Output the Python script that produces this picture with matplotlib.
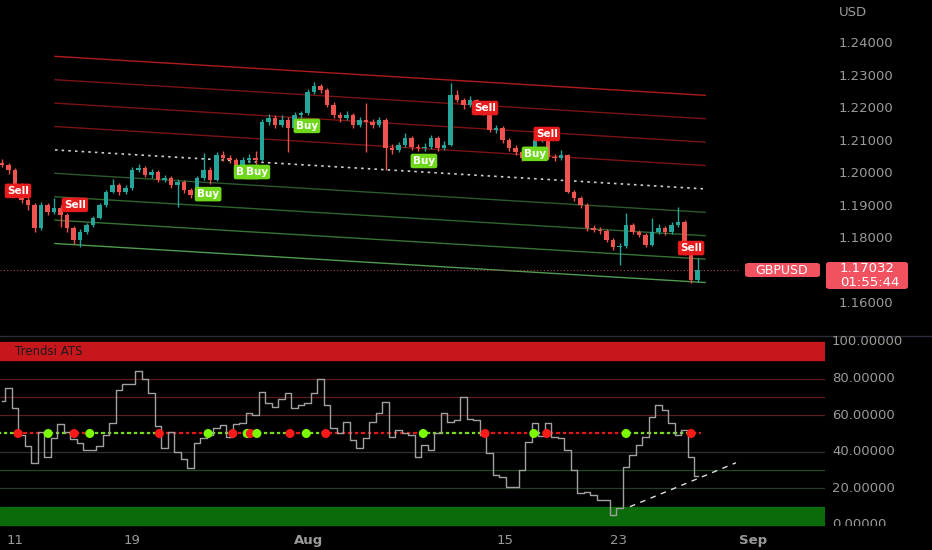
import matplotlib
matplotlib.use('Agg')
import matplotlib.pyplot as plt
from matplotlib.lines import Line2D
from matplotlib.patches import FancyBboxPatch
from matplotlib.transforms import Bbox, TransformedBbox, blended_transform_factory

# GBPUSD, 4H-ish bars (one entry per ~1/3 trading day)
first_open = 1.2035
closes = [1.2028, 1.2012, 1.1966, 1.1920, 1.1905, 1.1834, 1.1905, 1.1883, 1.1895, 1.1874,
          1.1834, 1.1797, 1.1822, 1.1843, 1.1865, 1.1905, 1.1945, 1.1966, 1.1945, 1.1957,
          1.2012, 1.2018, 1.1997, 1.2006, 1.1982, 1.1988, 1.1966, 1.1975, 1.1951, 1.1935,
          1.1988, 1.2012, 1.1982, 1.2058, 1.2049, 1.2043, 1.2012, 1.2043, 1.2049, 1.2043,
          1.2160, 1.2172, 1.2151, 1.2166, 1.2142, 1.2182, 1.2188, 1.2252, 1.2271, 1.2258,
          1.2212, 1.2182, 1.2172, 1.2182, 1.2151, 1.2166, 1.2160, 1.2151, 1.2166, 1.2080,
          1.2074, 1.2089, 1.2111, 1.2083, 1.2080, 1.2083, 1.2111, 1.2080, 1.2089, 1.2243,
          1.2228, 1.2212, 1.2228, 1.2197, 1.2191, 1.2135, 1.2142, 1.2105, 1.2080, 1.2068,
          1.2049, 1.2074, 1.2105, 1.2111, 1.2052, 1.2049, 1.2058, 1.1945, 1.1926, 1.1905,
          1.1834, 1.1828, 1.1825, 1.1797, 1.1775, 1.1778, 1.1843, 1.1822, 1.1812, 1.1782,
          1.1822, 1.1834, 1.1822, 1.1843, 1.1852, 1.1760, 1.1674, 1.17032]
highs = [1.2045, 1.2035, 1.2018, 1.1972, 1.1932, 1.1910, 1.1915, 1.1912, 1.1926, 1.1905,
         1.1880, 1.1840, 1.1830, 1.1850, 1.1872, 1.1912, 1.1952, 1.1985, 1.1972, 1.1965,
         1.2022, 1.2030, 1.2025, 1.2015, 1.2012, 1.1998, 1.1995, 1.1985, 1.1982, 1.1958,
         1.1995, 1.2065, 1.2020, 1.2068, 1.2072, 1.2058, 1.2050, 1.2052, 1.2060, 1.2070,
         1.2170, 1.2185, 1.2180, 1.2182, 1.2175, 1.2190, 1.2195, 1.2262, 1.2283, 1.2278,
         1.2265, 1.2222, 1.2192, 1.2195, 1.2188, 1.2175, 1.2218, 1.2170, 1.2175, 1.2172,
         1.2092, 1.2098, 1.2125, 1.2118, 1.2092, 1.2095, 1.2120, 1.2118, 1.2100, 1.2280,
         1.2258, 1.2235, 1.2240, 1.2232, 1.2205, 1.2195, 1.2152, 1.2148, 1.2110, 1.2088,
         1.2075, 1.2082, 1.2112, 1.2125, 1.2118, 1.2062, 1.2075, 1.2062, 1.1952, 1.1932,
         1.1910, 1.1842, 1.1838, 1.1830, 1.1802, 1.1788, 1.1880, 1.1850, 1.1828, 1.1818,
         1.1865, 1.1845, 1.1840, 1.1852, 1.1898, 1.1858, 1.1765, 1.1740]
lows = [1.2020, 1.2000, 1.1958, 1.1910, 1.1890, 1.1820, 1.1828, 1.1875, 1.1878, 1.1837,
        1.1822, 1.1785, 1.1775, 1.1815, 1.1838, 1.1860, 1.1898, 1.1940, 1.1935, 1.1938,
        1.1950, 1.2005, 1.1990, 1.1988, 1.1975, 1.1975, 1.1958, 1.1898, 1.1942, 1.1925,
        1.1930, 1.1982, 1.1970, 1.1978, 1.2040, 1.2035, 1.2000, 1.2008, 1.2035, 1.2032,
        1.2040, 1.2150, 1.2140, 1.2145, 1.2068, 1.2135, 1.2172, 1.2180, 1.2245, 1.2248,
        1.2205, 1.2172, 1.2160, 1.2165, 1.2140, 1.2145, 1.2068, 1.2140, 1.2145, 1.2012,
        1.2062, 1.2068, 1.2082, 1.2075, 1.2072, 1.2072, 1.2078, 1.2072, 1.2075, 1.2085,
        1.2220, 1.2200, 1.2205, 1.2188, 1.2182, 1.2128, 1.2125, 1.2095, 1.2070, 1.2058,
        1.2040, 1.2042, 1.2068, 1.2098, 1.2045, 1.2040, 1.2042, 1.1940, 1.1918, 1.1895,
        1.1825, 1.1820, 1.1815, 1.1790, 1.1765, 1.1720, 1.1772, 1.1815, 1.1805, 1.1775,
        1.1778, 1.1815, 1.1812, 1.1815, 1.1838, 1.1752, 1.1665, 1.1668]

# "Trendsi ATS" oscillator, one value per bar
osc = [68, 75, 64, 49, 43, 34, 51, 37, 47.5, 55,
       51, 47, 44.6, 41, 41, 43, 49, 56, 74, 77,
       77, 84, 80, 72, 54, 42, 51, 40, 36, 31,
       44.6, 47.4, 49, 53, 54.6, 48, 55, 55.6, 61, 60,
       72.8, 66.5, 64.6, 69, 72, 64, 65.6, 66.5, 72, 80,
       65.6, 52.8, 50, 56.4, 46.4, 42, 47.4, 56.4, 61, 67.4,
       48.3, 51.9, 50, 49.2, 37, 43.7, 41, 50, 61, 56.4,
       57.4, 70, 58, 57.4, 49, 39.2, 27.3, 26.4, 20.9, 20.9,
       30, 45.5, 56, 48.5, 55.6, 48.3, 47.4, 41, 30, 17.3,
       18.2, 16.4, 13.7, 13.7, 5.5, 9.1, 31.9, 38.3, 43.7, 48.3,
       59.2, 65.6, 62.8, 55.6, 49.2, 52, 37.3, 27]

sell_bars = [2.46, 11.2, 74.3, 83.8, 106.0]
sell_prices = [1.1948, 1.1905, 1.2203, 1.2123, 1.1772]
buy_bars = [31.7, 37.7, 39.2, 46.9, 64.9, 82.0]
buy_prices = [1.1938, 1.2006, 1.2006, 1.2148, 1.2040, 1.2062]

# regression channel
chan_x = [8.15, 108.15]
chan_mid = [1.2074, 1.1954]
chan_step = 0.0072

# signal dots on the 50 line
sig_bars = [2.46, 7.1, 11.1, 13.5, 24.2, 31.7, 35.5, 37.7, 38.2, 39.2,
            44.3, 46.8, 49.8, 64.8, 74.3, 81.8, 83.8, 96.0, 106.0]
sig_types = ['s', 'b', 's', 'b', 's', 'b', 's', 'b', 's', 'b',
             's', 'b', 's', 'b', 's', 'b', 's', 'b', 's']

trend_x = [96.6, 112.9]
trend_y = [10, 34]

symbol = 'GBPUSD'
last_price = 1.17032
countdown = '01:55:44'

price_ticks = [1.16, 1.18, 1.19, 1.20, 1.21, 1.22, 1.23, 1.24]
osc_ticks = [0, 20, 40, 60, 80, 100]
date_ticks = [2.0, 20.0, 47.2, 77.4, 94.8, 115.5]
date_labels = ['11', '19', 'Aug', '15', '23', 'Sep']

UP = '#26a69a'
DOWN = '#ef5350'
AXIS_TXT = '#9a9a9a'
BG = '#000000'

fig = plt.figure(figsize=(9.32, 5.5), dpi=100, facecolor=BG)
ax1 = fig.add_axes([0, 0.391, 825 / 932, 0.609])
ax2 = fig.add_axes([0, 0.0364, 825 / 932, 0.3527])
for ax in (ax1, ax2):
    ax.set_facecolor(BG)
    for s in ax.spines.values():
        s.set_visible(False)
    ax.set_xlim(-0.31, 126.6)
    ax.tick_params(left=False, labelleft=False, bottom=False)
ax1.tick_params(labelbottom=False)
ax1.set_ylim(1.15046, 1.25354)
ax2.set_ylim(-2.73, 103.28)

# channel lines
red_cols = ['#7a1414', '#7a1414', '#7a1414', '#b01c1c']
green_cols = ['#2c5a2c', '#2f662f', '#367436', '#4f9a4f']
for k in range(1, 5):
    ax1.plot(chan_x, [m + k * chan_step for m in chan_mid], color=red_cols[k - 1], lw=1, zorder=1)
    ax1.plot(chan_x, [m - k * chan_step for m in chan_mid], color=green_cols[k - 1], lw=1, zorder=1)
ax1.plot(chan_x, chan_mid, color='#d0d0d0', lw=1.2, ls=(0, (1.5, 2.5)), zorder=1)

# last price line
ax1.axhline(last_price, xmin=0, xmax=740 / 825, color='#b04556', lw=0.8, ls=(0, (1, 2)), zorder=1)

# candles
opens = [first_open] + closes[:-1]
for i in range(len(closes)):
    o, c = opens[i], closes[i]
    col = UP if c >= o else DOWN
    ax1.vlines(i, lows[i], highs[i], color=col, lw=1, zorder=2)
    h = max(abs(c - o), 0.00025)
    ax1.bar(i, h, bottom=min(o, c), width=0.7, color=col, zorder=3)

# buy / sell labels
for b, p in zip(sell_bars, sell_prices):
    ax1.text(b, p, 'Sell', color='white', fontsize=7.5, fontweight='bold', ha='center', va='center',
             zorder=6, bbox=dict(boxstyle='round,pad=0.22,rounding_size=0.2', fc='#e81c1c', ec='none'))
for b, p in zip(buy_bars, buy_prices):
    ax1.text(b, p, 'Buy', color='white', fontsize=7.5, fontweight='bold', ha='center', va='center',
             zorder=6, bbox=dict(boxstyle='round,pad=0.22,rounding_size=0.2', fc='#6fd81a', ec='none'))

# oscillator pane
ax2.axhspan(90, 100, color='#c8161d', zorder=1)
ax2.axhspan(0, 10, color='#0b6b0b', zorder=1)
for lvl in [80, 70, 60]:
    ax2.axhline(lvl, color='#5e1c1c', lw=0.9, zorder=1)
for lvl, col in [(40, '#2a352a'), (30, '#1f4a1f'), (20, '#2a3a2a')]:
    ax2.axhline(lvl, color=col, lw=0.9, zorder=1)
ax2.text(2, 95, 'Trendsi ATS', color='#1a1a1a', fontsize=8.5, va='center', ha='left', zorder=3)

# 50 line coloured by last signal
state = 'b'
j = 0
n = len(osc)
for i in range(n):
    while j < len(sig_bars) and sig_bars[j] <= i:
        state = sig_types[j]
        j += 1
    col = '#e01818' if state == 's' else '#7ad81a'
    ax2.plot([i - 0.5, i + 0.5], [50, 50], color=col, lw=1.6, ls=(0, (1, 1.2)), zorder=2)

ax2.step(range(n), osc, where='mid', color='#a0a0a0', lw=1, zorder=3)

for b, t in zip(sig_bars, sig_types):
    col = '#ff1a1a' if t == 's' else '#7cfc00'
    ax2.scatter([b], [50], s=42, color=col, edgecolors='none', zorder=4)

ax2.plot(trend_x, trend_y, color='#e0e0e0', lw=1, ls=(0, (4, 4)), zorder=4)

# date axis
ax2.set_xticks(date_ticks)
ax2.set_xticklabels(date_labels)
ax2.tick_params(axis='x', length=0, pad=3, labelsize=9.5, labelcolor=AXIS_TXT)
for lab in ax2.get_xticklabels():
    if lab.get_text() in ('Aug', 'Sep'):
        lab.set_fontweight('bold')

# pane separator
fig.add_artist(Line2D([0, 1], [1 - 336 / 550] * 2, color='#2a2e39', lw=1))

# right price scale
tr1 = blended_transform_factory(fig.transFigure, ax1.transData)
fig.text(839 / 932, 1 - 12 / 550, 'USD', color=AXIS_TXT, fontsize=9.5, va='center', ha='left')
for p in price_ticks:
    fig.text(839 / 932, p, f'{p:.5f}', transform=tr1, color=AXIS_TXT, fontsize=9.5, va='center', ha='left')

# the 0.00000 label is cut in half by the bottom of the pane
tr2 = blended_transform_factory(fig.transFigure, ax2.transData)
clip = TransformedBbox(Bbox([[0.85, 1 - 526 / 550], [1, 0.4]]), fig.transFigure)
for v in osc_ticks:
    t = fig.text(832 / 932, v, f'{v:.5f}', transform=tr2, color=AXIS_TXT, fontsize=9.5, va='center', ha='left')
    t.set_clip_box(clip)
    t.set_clip_on(True)

# symbol and last price tags
fig.add_artist(FancyBboxPatch((745 / 932, 1 - 277 / 550), 75 / 932, 14 / 550,
                              boxstyle='round,pad=0,rounding_size=0.004', fc='#f25260', ec='none',
                              transform=fig.transFigure))
fig.text(782 / 932, 1 - 270 / 550, symbol, color='white', fontsize=9, ha='center', va='center')
fig.add_artist(FancyBboxPatch((826 / 932, 1 - 289 / 550), 82 / 932, 27 / 550,
                              boxstyle='round,pad=0,rounding_size=0.004', fc='#f25260', ec='none',
                              transform=fig.transFigure))
fig.text(840 / 932, 1 - 269 / 550, f'{last_price:.5f}', color='white', fontsize=9.5, ha='left', va='center')
fig.text(840 / 932, 1 - 282 / 550, countdown, color='white', fontsize=9.5, ha='left', va='center')

fig.savefig('out.png', dpi=100, facecolor=BG)
